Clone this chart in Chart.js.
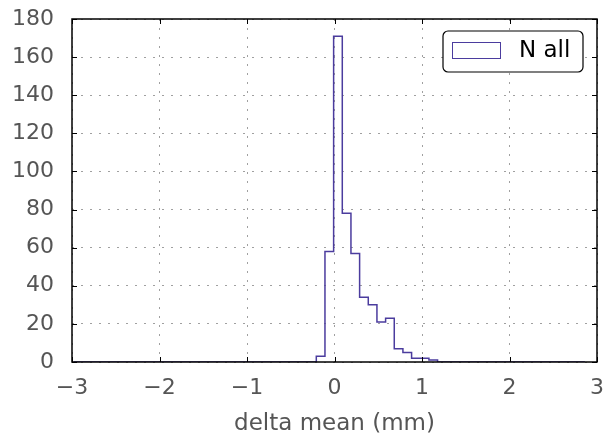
<!DOCTYPE html>
<html>
<head>
<meta charset="utf-8">
<script src="https://cdn.jsdelivr.net/npm/chart.js@4.4.1/dist/chart.umd.min.js"></script>
<style>
  html, body { margin: 0; padding: 0; background: #fff; }
  #wrap { width: 608px; height: 441px; }
</style>
</head>
<body>
<div id="wrap"><canvas id="histChart" width="608" height="441"></canvas></div>
<script>
// Histogram bins: first edge and width, counts per bin
const binStart = -2.98;
const binWidth = 0.099;
const counts = [
    0, 0, 0, 0, 0, 0, 0, 0, 0, 0,
    0, 0, 0, 0, 0, 0, 0, 0, 0, 0,
    0, 0, 0, 0, 0, 0, 0, 0, 3, 58,
    171, 78, 57, 34, 30, 21, 23, 7, 5, 2,
    2, 1, 0, 0, 0, 0, 0, 0, 0, 0,
    0, 0, 0, 0, 0, 0, 0, 0, 0
];
const xTicks = [-3, -2, -1, 0, 1, 2, 3];
const yTicks = [0, 20, 40, 60, 80, 100, 120, 140, 160, 180];
const seriesLabel = 'N all';
const xTitle = 'delta mean (mm)';

const lineColor = '#4b3c9e';
const textColor = '#555555';
const fontFamily = '"DejaVu Sans", sans-serif';

// step points at bin edges: each count holds from its left edge to the next edge
const stepPoints = [];
stepPoints.push({ x: binStart, y: 0 });
counts.forEach(function(c, i) {
    stepPoints.push({ x: binStart + i * binWidth, y: c });
});
stepPoints.push({ x: binStart + counts.length * binWidth, y: 0 });

const frameAndLegend = {
    id: 'frameAndLegend',
    afterDatasetsDraw(chart) {
        const ctx = chart.ctx;
        const a = chart.chartArea;
        const xs = chart.scales.x;
        const ys = chart.scales.y;
        ctx.save();
        // inward tick marks
        ctx.strokeStyle = '#000';
        ctx.lineWidth = 1;
        xTicks.forEach(function(t) {
            const px = Math.round(xs.getPixelForValue(t)) + 0.5;
            ctx.beginPath();
            ctx.moveTo(px, a.bottom); ctx.lineTo(px, a.bottom - 5);
            ctx.moveTo(px, a.top); ctx.lineTo(px, a.top + 5);
            ctx.stroke();
        });
        yTicks.forEach(function(t) {
            const py = Math.round(ys.getPixelForValue(t)) + 0.5;
            ctx.beginPath();
            ctx.moveTo(a.left, py); ctx.lineTo(a.left + 5, py);
            ctx.moveTo(a.right, py); ctx.lineTo(a.right - 5, py);
            ctx.stroke();
        });
        // frame
        ctx.lineWidth = 1.5;
        ctx.strokeRect(a.left, a.top, a.right - a.left, a.bottom - a.top);

        // legend box
        const bx = a.right - 154, by = a.top + 12, bw = 140, bh = 41;
        ctx.beginPath();
        ctx.roundRect(bx, by, bw, bh, 5);
        ctx.fillStyle = '#fff';
        ctx.fill();
        ctx.lineWidth = 1.2;
        ctx.strokeStyle = '#000';
        ctx.stroke();
        ctx.lineWidth = 1;
        ctx.strokeStyle = lineColor;
        ctx.strokeRect(bx + 9.5, by + 11.5, 48, 16);
        ctx.fillStyle = '#000';
        ctx.font = '23px ' + fontFamily;
        ctx.textBaseline = 'middle';
        ctx.textAlign = 'left';
        ctx.fillText(seriesLabel, bx + 76, by + bh / 2);
        ctx.restore();
    }
};

function noOverflow(scale) {
    scale.paddingTop = 0;
    scale.paddingBottom = 0;
    scale.paddingLeft = 0;
    scale.paddingRight = 0;
}

const ctx = document.getElementById('histChart').getContext('2d');
new Chart(ctx, {
    type: 'line',
    data: {
        datasets: [{
            label: seriesLabel,
            data: stepPoints,
            stepped: 'before',
            borderColor: lineColor,
            borderWidth: 1.5,
            pointRadius: 0,
            fill: false
        }]
    },
    options: {
        responsive: false,
        animation: false,
        layout: { padding: { left: 0, right: 11, top: 19, bottom: 0 } },
        plugins: {
            legend: { display: false },
            tooltip: { enabled: false }
        },
        scales: {
            x: {
                type: 'linear',
                min: -3,
                max: 3,
                afterBuildTicks: function(scale) {
                    scale.ticks = xTicks.map(function(v) { return { value: v }; });
                },
                afterFit: function(scale) { scale.height = 79; noOverflow(scale); },
                grid: {
                    color: '#a0a0a0',
                    lineWidth: 1,
                    drawTicks: false
                },
                border: { display: false, dash: [2, 7] },
                ticks: {
                    color: textColor,
                    padding: 13,
                    font: { family: fontFamily, size: 22 },
                    callback: function(v) { return String(v).replace('-', '\u2212'); }
                },
                title: {
                    display: true,
                    text: xTitle,
                    color: textColor,
                    font: { family: fontFamily, size: 23 },
                    padding: { top: 8, bottom: 3 }
                }
            },
            y: {
                min: 0,
                max: 180,
                afterBuildTicks: function(scale) {
                    scale.ticks = yTicks.map(function(v) { return { value: v }; });
                },
                afterFit: function(scale) { scale.width = 72; noOverflow(scale); },
                grid: {
                    color: '#a0a0a0',
                    lineWidth: 1,
                    drawTicks: false
                },
                border: { display: false, dash: [2, 7] },
                ticks: {
                    color: textColor,
                    padding: 18,
                    font: { family: fontFamily, size: 22 }
                }
            }
        }
    },
    plugins: [frameAndLegend]
});
</script>
</body>
</html>
